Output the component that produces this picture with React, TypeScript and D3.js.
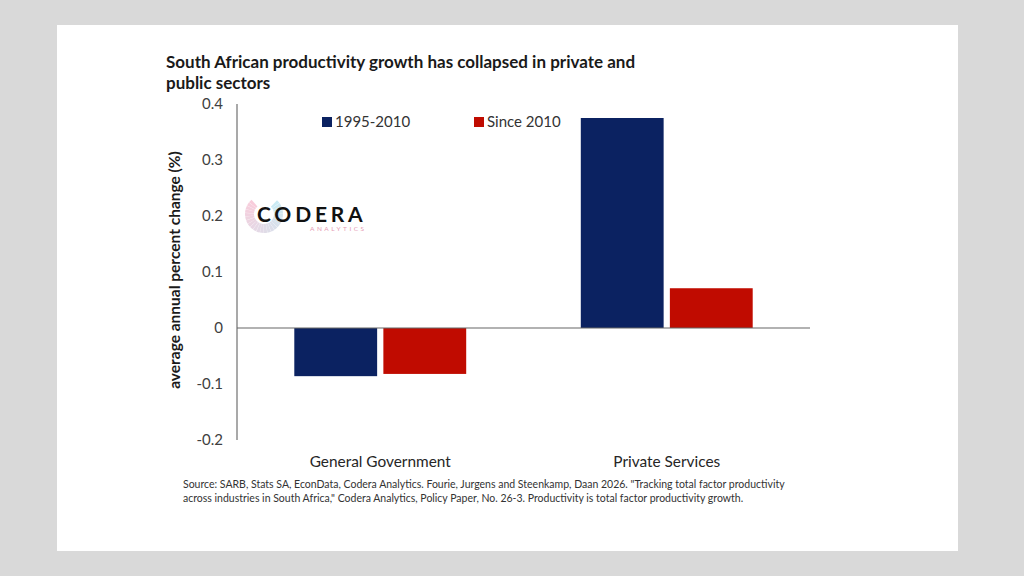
import React, { useEffect } from 'react';
import * as d3 from 'd3';

const categories = ['General Government', 'Private Services'];
const seriesNames = ['1995-2010', 'Since 2010'];
const early = [-0.086, 0.375];
const recent = [-0.082, 0.071];
const yTicks = [-0.2, -0.1, 0, 0.1, 0.2, 0.3, 0.4];
const titleLines = [
  'South African productivity growth has collapsed in private and',
  'public sectors',
];
const sourceLines = [
  'Source: SARB, Stats SA, EconData, Codera Analytics. Fourie, Jurgens and Steenkamp, Daan 2026. "Tracking total factor productivity',
  'across industries in South Africa," Codera Analytics, Policy Paper, No. 26-3. Productivity is total factor productivity growth.',
];

const colors = ['#0b2261', '#c00b00'];
const font = 'Lato, "Open Sans", sans-serif';

const App: React.FC = () => {
  useEffect(() => {
    document.body.style.margin = '0';
  }, []);

  const plot = { left: 237, right: 810, top: 104, bottom: 440 };

  const y = d3.scaleLinear().domain([-0.2, 0.4]).range([plot.bottom, plot.top]);
  const x0 = d3.scaleBand().domain(categories).range([plot.left, plot.right]).paddingInner(0.4).paddingOuter(0.2);
  const x1 = d3.scaleBand().domain(seriesNames).range([0, x0.bandwidth()]).paddingInner(0.07);

  const values = [early, recent];
  const tickFmt = (t: number) => (t === 0 ? '0' : t.toFixed(1));

  // logo ring, soft C shape open to the right
  const ringArc = d3.arc();
  const ringSegs = d3.range(24).map(i => {
    const start = (0.12 + i * 0.032) * Math.PI * 2;
    const c = d3.interpolateRgb('#9fd8ea', '#f2a3bd')(i / 23);
    return { start, end: start + 0.03 * Math.PI * 2, c };
  });

  return (
    <svg width={1024} height={576} style={{ display: 'block', fontFamily: font }}>
      <rect x={0} y={0} width={1024} height={576} fill="#d9d9d9" />
      <rect x={57} y={25} width={901} height={526} fill="#ffffff" />

      {/* title */}
      {titleLines.map((t, i) => (
        <text key={i} x={166} y={68 + i * 21} fontSize={17} fontWeight={700} fill="#1a1a1a">{t}</text>
      ))}

      {/* axis title */}
      <text
        transform={`translate(180,${(y(0.4) + y(-0.2)) / 2 - 2}) rotate(-90)`}
        textAnchor="middle"
        fontSize={15.5}
        fontWeight={700}
        fill="#1a1a1a"
      >
        average annual percent change (%)
      </text>

      {/* y ticks */}
      {yTicks.map(t => (
        <text key={t} x={223} y={y(t)} dy="0.35em" textAnchor="end" fontSize={15} fill="#404040">
          {tickFmt(t)}
        </text>
      ))}

      {/* logo */}
      <g transform="translate(264,214)">
        {ringSegs.map((s, i) => (
          <path
            key={i}
            d={ringArc({ innerRadius: 10, outerRadius: 19, startAngle: s.start, endAngle: s.end }) || ''}
            fill={s.c}
            opacity={0.55}
          />
        ))}
      </g>
      <text x={257} y={222} fontSize={21} fontWeight={700} letterSpacing={3.8} fill="#111">CODERA</text>
      <text x={310} y={231} fontSize={6.5} letterSpacing={2.5} fill="#e59ab3">ANALYTICS</text>

      {/* bars */}
      {categories.map((c, ci) => (
        <g key={c} transform={`translate(${x0(c)},0)`}>
          {seriesNames.map((s, si) => {
            const v = values[si][ci];
            return (
              <rect
                key={s}
                x={x1(s)}
                y={Math.min(y(v), y(0))}
                width={x1.bandwidth()}
                height={Math.abs(y(v) - y(0))}
                fill={colors[si]}
              />
            );
          })}
        </g>
      ))}

      {/* axes */}
      <line x1={plot.left} x2={plot.left} y1={plot.top} y2={plot.bottom} stroke="#8c8c8c" strokeWidth={1.5} />
      <line x1={plot.left} x2={plot.right} y1={y(0)} y2={y(0)} stroke="#666" strokeWidth={1.2} />

      {/* category labels */}
      {categories.map(c => (
        <text key={c} x={(x0(c) || 0) + x0.bandwidth() / 2} y={467} textAnchor="middle" fontSize={15.4} fill="#262626">{c}</text>
      ))}

      {/* legend */}
      {seriesNames.map((s, i) => {
        const lx = [322, 474][i];
        return (
          <g key={s}>
            <rect x={lx} y={117} width={10} height={10} fill={colors[i]} />
            <text x={lx + 13} y={122} dy="0.35em" fontSize={15} fill="#333">{s}</text>
          </g>
        );
      })}

      {/* source */}
      {sourceLines.map((t, i) => (
        <text key={i} x={183} y={488 + i * 14} fontSize={10.5} fill="#333">{t}</text>
      ))}
    </svg>
  );
};

export default App;
